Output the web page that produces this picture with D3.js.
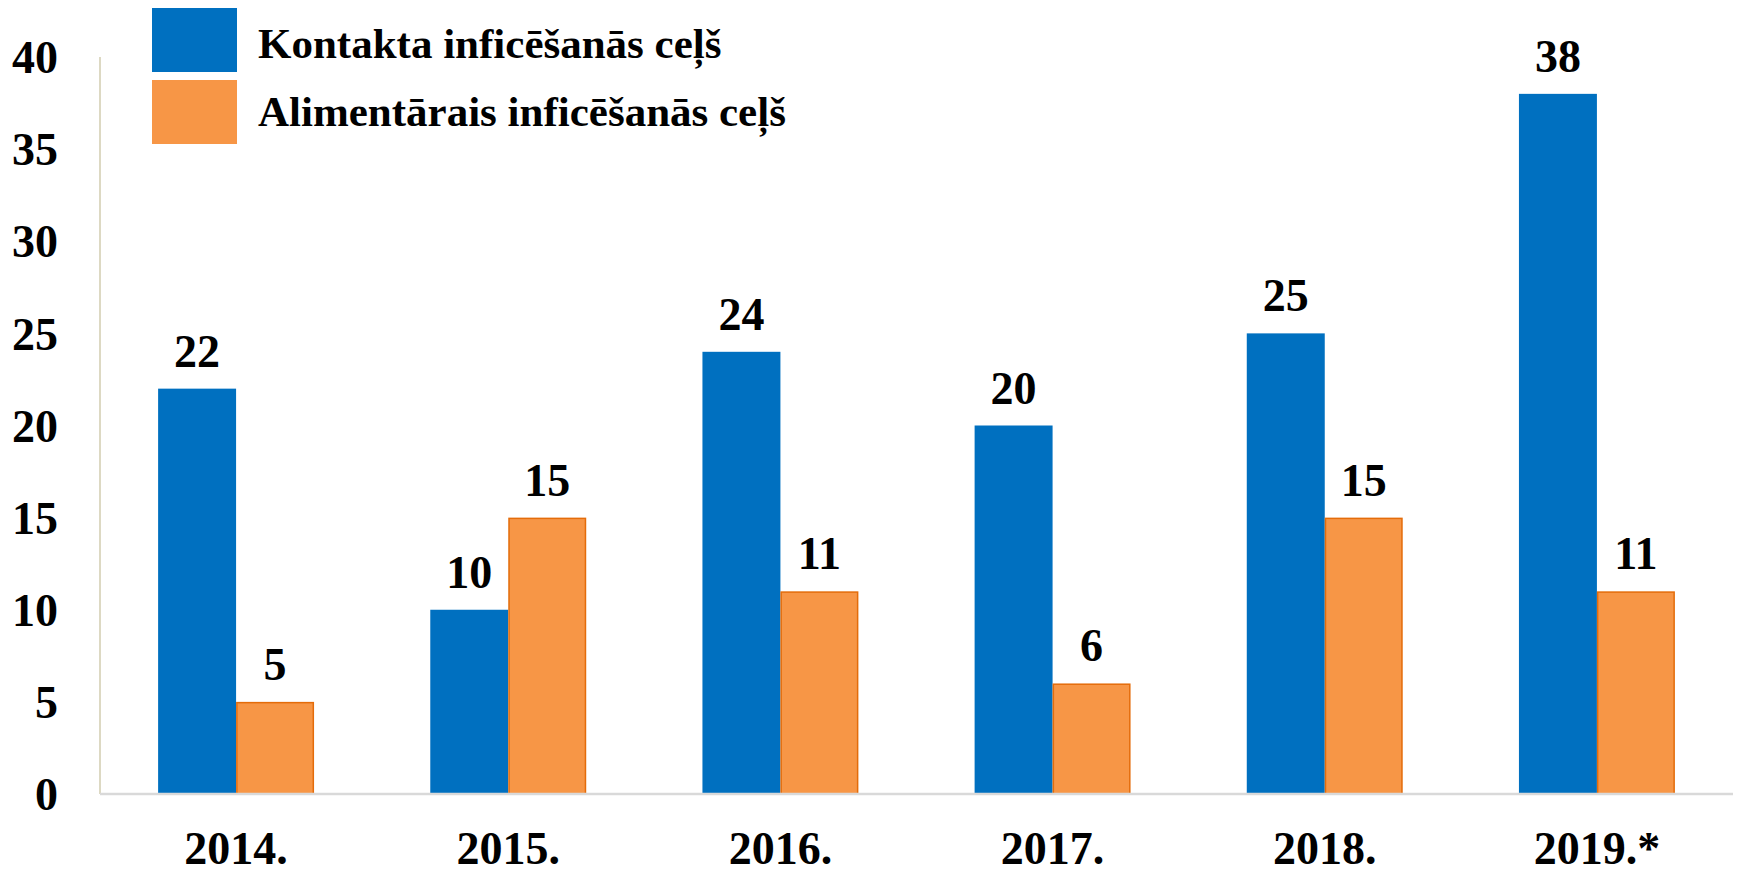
<!DOCTYPE html>
<html>
<head>
<meta charset="utf-8">
<script src="https://cdn.jsdelivr.net/npm/d3@7"></script>
<style>
  html, body { margin: 0; padding: 0; background: #fff; }
  svg { display: block; }
  text { font-family: "Liberation Serif", "Times New Roman", serif; font-weight: bold; fill: #000; }
</style>
</head>
<body>
<svg id="chart" width="1738" height="873"></svg>
<script>
const categories = ["2014.", "2015.", "2016.", "2017.", "2018.", "2019.*"];
const seriesNames = ["Kontakta inficēšanās ceļš", "Alimentārais inficēšanās ceļš"];
const kontakta = [22, 10, 24, 20, 25, 38];
const alimentarais = [5, 15, 11, 6, 15, 11];
const yTicks = [0, 5, 10, 15, 20, 25, 30, 35, 40];

const colors = ["#0070C0", "#F79646"];
const strokes = ["#0070C0", "#E46C0A"];

const svg = d3.select("#chart");
const W = 1738, H = 873;
const plot = { left: 100, right: 1733, top: 57, bottom: 794 };

const x = d3.scaleBand().domain(categories).range([plot.left, plot.right]).paddingInner(0.427).paddingOuter(0.2135);
const x1 = d3.scaleBand().domain([0, 1]).range([0, x.bandwidth()]);
const y = d3.scaleLinear().domain([0, 40]).range([plot.bottom, plot.top]);

const data = categories.map((c, i) => ({ cat: c, vals: [kontakta[i], alimentarais[i]] }));

// y axis line
svg.append("line").attr("x1", plot.left).attr("x2", plot.left).attr("y1", plot.top).attr("y2", plot.bottom)
  .attr("stroke", "#DDD9C3").attr("stroke-width", 2);

const groups = svg.selectAll("g.cat").data(data).enter().append("g")
  .attr("class", "cat").attr("transform", d => `translate(${x(d.cat)},0)`);

groups.selectAll("rect").data(d => d.vals.map((v, s) => ({ v, s }))).enter().append("rect")
  .attr("x", d => x1(d.s) + (d.s === 1 ? 0.75 : 0))
  .attr("width", d => x1.bandwidth() - (d.s === 1 ? 1.5 : 0))
  .attr("y", d => y(d.v) + (d.s === 1 ? 0.75 : 0))
  .attr("height", d => y(0) - y(d.v) - (d.s === 1 ? 0.75 : 0))
  .attr("fill", d => colors[d.s])
  .attr("stroke", d => d.s === 1 ? strokes[1] : "none")
  .attr("stroke-width", 1.5);

groups.selectAll("text.val").data(d => d.vals.map((v, s) => ({ v, s }))).enter().append("text")
  .attr("class", "val")
  .attr("x", d => x1(d.s) + x1.bandwidth() / 2)
  .attr("y", d => y(d.v) - 22)
  .attr("text-anchor", "middle")
  .style("font-size", "46px")
  .text(d => d.v);

// baseline
svg.append("line").attr("x1", plot.left).attr("x2", plot.right).attr("y1", plot.bottom).attr("y2", plot.bottom)
  .attr("stroke", "#D9D9D9").attr("stroke-width", 2.5);

// y axis labels
const yAxis = d3.axisLeft(y).tickValues(yTicks).tickSize(0).tickPadding(42);
const gy = svg.append("g").attr("transform", `translate(${plot.left},0)`).call(yAxis);
gy.select(".domain").remove();
gy.selectAll("text").style("font-size", "46px").attr("dy", "0.34em")
  .style("font-family", '"Liberation Serif", "Times New Roman", serif').style("font-weight", "bold").attr("fill", "#000");

// x axis labels
const xAxis = d3.axisBottom(x).tickSize(0).tickPadding(37);
const gx = svg.append("g").attr("transform", `translate(0,${plot.bottom})`).call(xAxis);
gx.select(".domain").remove();
gx.selectAll("text").style("font-size", "46px")
  .style("font-family", '"Liberation Serif", "Times New Roman", serif').style("font-weight", "bold").attr("fill", "#000");

// legend
const legend = svg.append("g");
seriesNames.forEach((name, i) => {
  legend.append("rect").attr("x", 152).attr("y", 8 + i * 72).attr("width", 85).attr("height", 64)
    .attr("fill", colors[i]);
  legend.append("text").attr("x", 258).attr("y", 58 + i * 68)
    .style("font-size", "43px").text(name);
});
</script>
</body>
</html>
